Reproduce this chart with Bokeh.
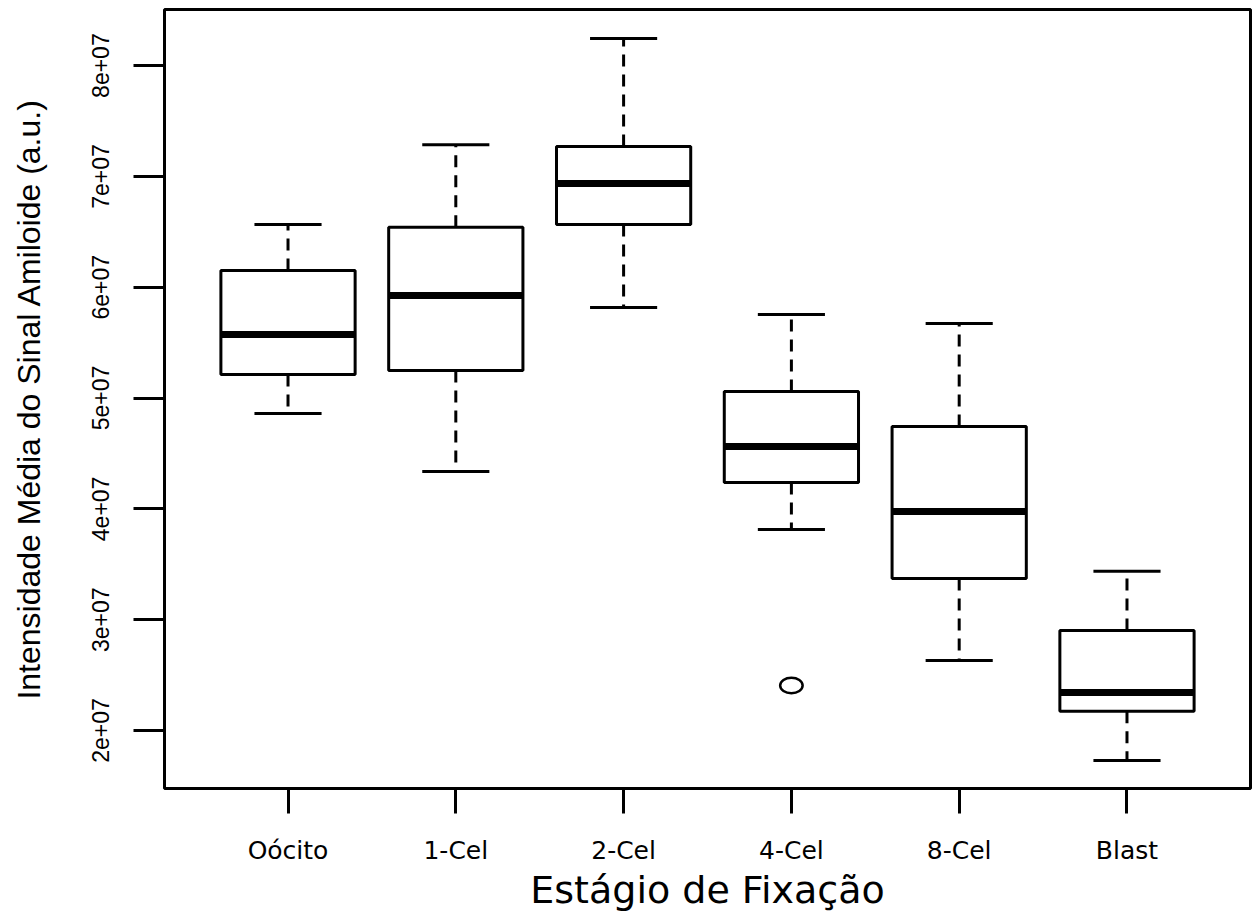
from bokeh.plotting import figure
from bokeh.models import FactorRange, Range1d, FixedTicker, ColumnDataSource
from bokeh.transform import dodge
from bokeh.embed import file_html
from bokeh.resources import INLINE

# ---- data ----
categories = ["Oócito", "1-Cel", "2-Cel", "4-Cel", "8-Cel", "Blast"]
lower_whisker = [4.860e7, 4.337e7, 5.817e7, 3.814e7, 2.632e7, 1.729e7]
q1 = [5.212e7, 5.248e7, 6.566e7, 4.238e7, 3.371e7, 2.174e7]
median = [5.573e7, 5.925e7, 6.935e7, 4.562e7, 3.976e7, 2.343e7]
q3 = [6.150e7, 6.541e7, 7.269e7, 5.059e7, 4.743e7, 2.902e7]
upper_whisker = [6.566e7, 7.285e7, 8.244e7, 5.753e7, 5.672e7, 3.437e7]
outlier_cat = ["4-Cel"]
outlier_val = [2.406e7]
ytick_values = [20000000, 30000000, 40000000, 50000000, 60000000, 70000000, 80000000]
ytick_labels = ["2e+07", "3e+07", "4e+07", "5e+07", "6e+07", "7e+07", "8e+07"]
x_title = "Estágio de Fixação"
y_title = "Intensidade Média do Sinal Amiloide (a.u.)"

src = ColumnDataSource(dict(cat=categories, lo=lower_whisker, q1=q1, med=median,
                            q3=q3, hi=upper_whisker))

p = figure(width=1256, height=914,
           x_range=FactorRange(*categories, range_padding=0.0787),
           y_range=Range1d(1.477e7, 8.506e7),
           output_backend="svg", toolbar_location=None,
           min_border_left=164, min_border_right=6, min_border_top=9, min_border_bottom=126)

p.background_fill_color = "white"
p.border_fill_color = "white"
p.outline_line_color = "black"
p.outline_line_width = 3
p.xgrid.visible = False
p.ygrid.visible = False

# axes
for ax in (p.xaxis, p.yaxis):
    ax.axis_line_color = None
    ax.major_tick_line_color = "black"
    ax.major_tick_line_width = 3
    ax.major_tick_in = 0
    ax.minor_tick_line_color = None
    ax.major_label_text_color = "black"
    ax.axis_label_text_color = "black"
    ax.axis_label_text_font_style = "normal"

p.yaxis.ticker = FixedTicker(ticks=ytick_values)
p.yaxis.major_label_overrides = {v: l for v, l in zip(ytick_values, ytick_labels)}
p.yaxis.major_label_orientation = "vertical"
p.yaxis.major_tick_out = 31
p.yaxis.major_label_standoff = 24
p.yaxis.major_label_text_font = "Liberation Sans"
p.yaxis.major_label_text_font_size = "23px"
p.yaxis.axis_label = y_title
p.yaxis.axis_label_text_font = "Liberation Sans"
p.yaxis.axis_label_text_font_size = "32px"
p.yaxis.axis_label_standoff = 43

p.xaxis.major_tick_out = 25
p.xaxis.major_label_standoff = 22
p.xaxis.major_label_text_font = "DejaVu Sans"
p.xaxis.major_label_text_font_size = "25px"
p.xaxis.axis_label = x_title
p.xaxis.axis_label_text_font = "DejaVu Sans"
p.xaxis.axis_label_text_font_size = "38px"
p.xaxis.axis_label_standoff = 0

# whiskers (dashed)
p.segment(x0="cat", x1="cat", y0="q3", y1="hi", source=src,
          line_color="black", line_width=3, line_dash="12 8")
p.segment(x0="cat", x1="cat", y0="q1", y1="lo", source=src,
          line_color="black", line_width=3, line_dash="12 8")
# boxes
p.vbar(x="cat", width=0.8, bottom="q1", top="q3", source=src,
       fill_color="white", line_color="black", line_width=3)
# medians
p.segment(x0=dodge("cat", -0.4, range=p.x_range), x1=dodge("cat", 0.4, range=p.x_range),
          y0="med", y1="med", source=src, line_color="black", line_width=7)
# staples
for col in ("hi", "lo"):
    p.segment(x0=dodge("cat", -0.2, range=p.x_range), x1=dodge("cat", 0.2, range=p.x_range),
              y0=col, y1=col, source=src, line_color="black", line_width=3)
# outlier (open symbol)
p.ellipse(x=outlier_cat, y=outlier_val, width=0.134, height=1.4e6,
          fill_color=None, line_color="black", line_width=2.5)

open("out.html", "w").write(file_html(p, INLINE))
